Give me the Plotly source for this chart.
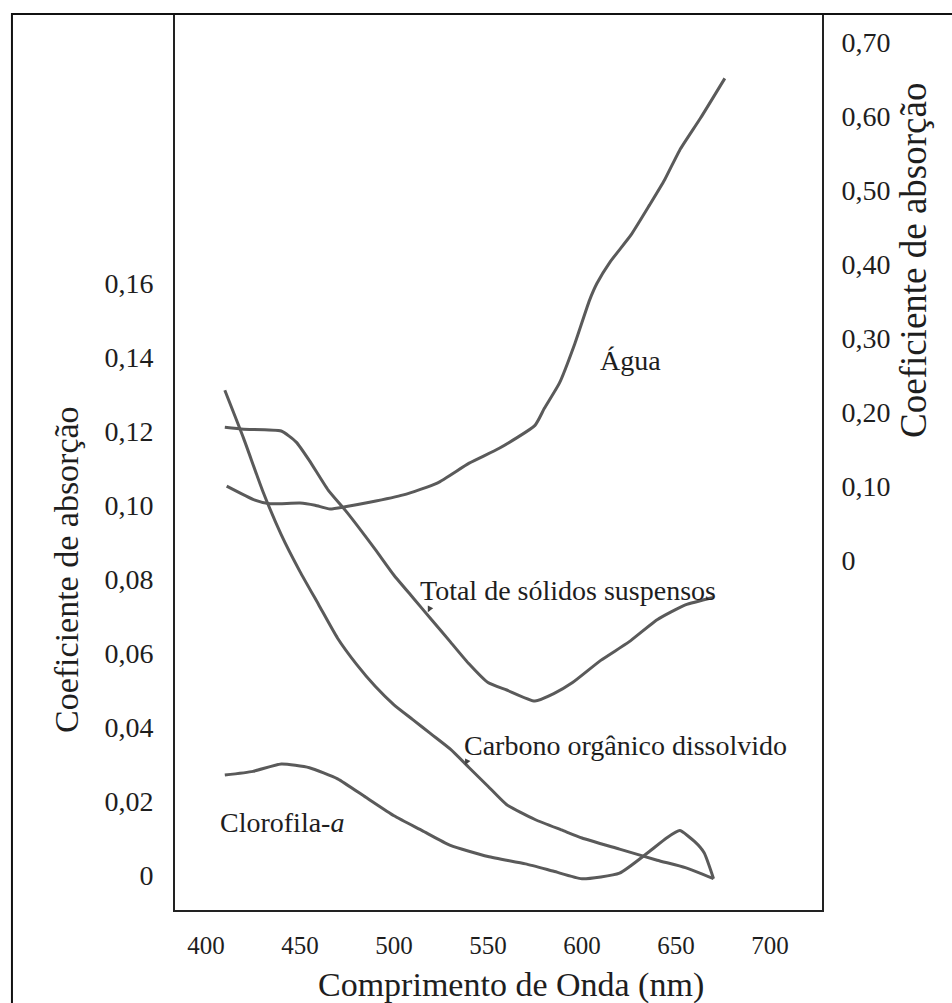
import plotly.graph_objects as go

# Wavelength (nm) and absorption coefficients for each constituent
agua_nm = [411, 426, 434, 450, 458, 466, 474, 487, 505, 523, 540, 556, 575, 580,
           588, 596, 604, 608, 615, 626, 636, 644, 652, 663, 676]
agua_abs = [0.100, 0.081, 0.076, 0.077, 0.074, 0.069, 0.072, 0.078, 0.088, 0.104,
            0.131, 0.151, 0.182, 0.205, 0.239, 0.291, 0.351, 0.374, 0.403, 0.439,
            0.480, 0.514, 0.554, 0.597, 0.651]

tss_nm = [410, 420, 440, 448, 455, 465, 475, 490, 500, 510, 520, 530, 540, 550,
          560, 575, 585, 595, 610, 625, 640, 655, 670]
tss_abs = [0.121, 0.1205, 0.120, 0.117, 0.112, 0.104, 0.098, 0.088, 0.081, 0.075,
           0.069, 0.063, 0.057, 0.052, 0.050, 0.047, 0.049, 0.052, 0.058, 0.063,
           0.069, 0.073, 0.075]

cdom_nm = [410, 420, 430, 440, 450, 460, 470, 480, 490, 500, 510, 520, 530, 540,
           550, 560, 575, 590, 600, 620, 640, 655, 670]
cdom_abs = [0.131, 0.118, 0.104, 0.092, 0.082, 0.073, 0.064, 0.057, 0.051, 0.046,
            0.042, 0.038, 0.034, 0.029, 0.024, 0.019, 0.015, 0.012, 0.010, 0.007,
            0.004, 0.002, -0.001]

chl_nm = [410, 425, 440, 455, 470, 485, 500, 515, 530, 550, 570, 585, 600, 620,
          635, 645, 652, 660, 665, 670]
chl_abs = [0.027, 0.028, 0.030, 0.029, 0.026, 0.021, 0.016, 0.012, 0.008, 0.005,
           0.003, 0.001, -0.001, 0.0005, 0.006, 0.010, 0.012, 0.009, 0.006, -0.001]

x_ticks = [400, 450, 500, 550, 600, 650, 700]
left_ticks = [0, 0.02, 0.04, 0.06, 0.08, 0.10, 0.12, 0.14, 0.16]
left_labels = ["0", "0,02", "0,04", "0,06", "0,08", "0,10", "0,12", "0,14", "0,16"]
right_ticks = [0, 0.1, 0.2, 0.3, 0.4, 0.5, 0.6, 0.7]
right_labels = ["0", "0,10", "0,20", "0,30", "0,40", "0,50", "0,60", "0,70"]

FONT = "Liberation Serif, Times New Roman, serif"
TEXT = "#1e1e1e"
LINE = dict(color="#5a5a5a", width=3, shape="spline", smoothing=0.5)

fig = go.Figure()
fig.add_trace(go.Scatter(x=agua_nm, y=agua_abs, mode="lines", line=LINE, yaxis="y2",
                         name="Água"))
fig.add_trace(go.Scatter(x=tss_nm, y=tss_abs, mode="lines", line=LINE,
                         name="Total de sólidos suspensos"))
fig.add_trace(go.Scatter(x=cdom_nm, y=cdom_abs, mode="lines", line=LINE,
                         name="Carbono orgânico dissolvido"))
fig.add_trace(go.Scatter(x=chl_nm, y=chl_abs, mode="lines", line=LINE,
                         name="Clorofila-a"))

tick_font = dict(family=FONT, size=28, color=TEXT)

fig.update_layout(
    width=952, height=1003,
    margin=dict(l=175, r=130, t=14, b=93),
    paper_bgcolor="white", plot_bgcolor="white",
    showlegend=False,
    font=dict(family=FONT, color=TEXT),
    xaxis=dict(range=[383.5, 727.7], tickvals=x_ticks, ticks="", showgrid=False,
               zeroline=False, showline=True, linecolor="#222", linewidth=2,
               tickfont=dict(family=FONT, size=25, color=TEXT),
               ticklabelstandoff=12),
    yaxis=dict(range=[-0.00946, 0.2327], tickvals=left_ticks, ticktext=left_labels,
               ticks="", showgrid=False, zeroline=False, showline=True,
               linecolor="#222", linewidth=2, tickfont=tick_font,
               ticklabelstandoff=14),
    yaxis2=dict(range=[-0.473, 0.738], tickvals=right_ticks, ticktext=right_labels,
                overlaying="y", side="right", ticks="", showgrid=False,
                zeroline=False, showline=True, linecolor="#222", linewidth=2,
                tickfont=tick_font, ticklabelstandoff=12),
)

# Outer frame around the whole figure
fig.add_shape(type="rect", xref="paper", yref="paper",
              x0=-0.252, x1=1.25, y0=-0.15, y1=1.0,
              line=dict(color="#111", width=2), layer="above")

# Axis titles
title_font = dict(family=FONT, size=34, color=TEXT)
fig.add_annotation(text="Comprimento de Onda (nm)", xref="paper", yref="paper",
                   x=(511 - 175) / 647, y=(910 - 985) / 896,
                   showarrow=False, font=title_font, xanchor="center", yanchor="middle")
fig.add_annotation(text="Coeficiente de absorção", xref="paper", yref="paper",
                   x=(66 - 175) / 647, y=(910 - 570) / 896, textangle=-90,
                   showarrow=False, font=title_font, xanchor="center", yanchor="middle")
fig.add_annotation(text="Coeficiente de absorção", xref="paper", yref="paper",
                   x=(913 - 175) / 647, y=(910 - 261) / 896, textangle=-90,
                   showarrow=False, font=dict(family=FONT, size=37, color=TEXT),
                   xanchor="center", yanchor="middle")

# Curve labels
lab_font = dict(family=FONT, size=28, color=TEXT)
fig.add_annotation(text="Água", x=608.5, y=0.27, yref="y2", xanchor="left",
                   showarrow=False, font=lab_font)
fig.add_annotation(text="Total de sólidos suspensos", x=512.8, y=0.077,
                   xanchor="left", showarrow=False, font=lab_font)
fig.add_annotation(text="Carbono orgânico dissolvido", x=536.2, y=0.0351,
                   xanchor="left", showarrow=False, font=lab_font)
fig.add_annotation(text="Clorofila-<i>a</i>", x=406.4, y=0.0143,
                   xanchor="left", showarrow=False, font=lab_font)

# Small pointers from labels to their curves
for px, py in [(518.0, 0.071), (537.8, 0.0297)]:
    fig.add_annotation(x=px, y=py, text="", showarrow=True, arrowhead=2,
                       arrowsize=0.8, arrowwidth=1.5, arrowcolor="#444",
                       ax=3, ay=-6)

fig.write_html("out.html")
